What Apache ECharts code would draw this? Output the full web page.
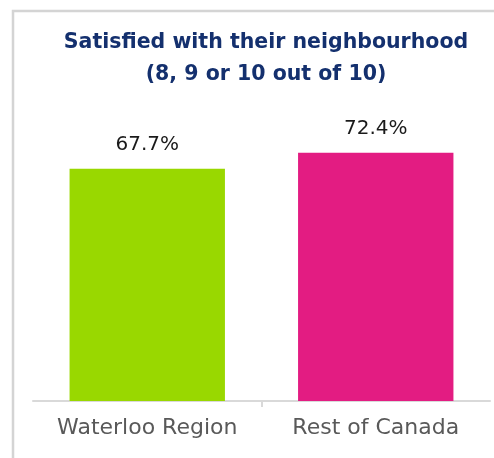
<!DOCTYPE html>
<html>
<head>
<meta charset="utf-8">
<script src="https://cdn.jsdelivr.net/npm/echarts@6/dist/echarts.min.js"></script>
<style>
  html, body { margin: 0; padding: 0; background: #fff; }
  #main { width: 494px; height: 458px; }
</style>
</head>
<body>
<div id="main"></div>
<script>
// data
var categories = ['Waterloo Region', 'Rest of Canada'];
var values = [67.7, 72.4];
var barColors = ['#99d800', '#e31c82'];
var titleText = 'Satisfied with their neighbourhood\n(8, 9 or 10 out of 10)';

var myChart = echarts.init(document.getElementById('main'));
var option = {
  animation: false,
  title: {
    text: titleText,
    left: 261,
    top: 22,
    textAlign: 'center',
    textStyle: {
      fontFamily: 'DejaVu Sans',
      fontWeight: 'bold',
      fontSize: 20.5,
      lineHeight: 32,
      color: '#14306e'
    }
  },
  // outer frame (left + top edges only)
  graphic: [{
    type: 'polyline',
    shape: { points: [[520, 11], [13, 11], [13, 480]] },
    style: { stroke: '#d4d4d4', lineWidth: 2.5, fill: null }
  }],
  grid: { left: 33, right: 4, top: 58, bottom: 57 },
  xAxis: [{
    type: 'category',
    data: categories,
    axisLine: { lineStyle: { color: '#d9d9d9', width: 2 } },
    axisTick: { show: false },
    axisLabel: {
      interval: 0,
      color: '#595959',
      fontSize: 22,
      fontFamily: 'DejaVu Sans',
      margin: 16
    }
  }, {
    // helper axis: only the divider tick between the two categories
    type: 'value',
    position: 'bottom',
    min: 0,
    max: categories.length,
    axisLine: { show: false },
    axisLabel: { show: false },
    splitLine: { show: false },
    axisTick: {
      show: true,
      length: 6,
      customValues: [1],
      lineStyle: { color: '#d9d9d9', width: 2 }
    }
  }],
  yAxis: {
    type: 'value',
    min: 0,
    max: 100,
    show: false
  },
  series: [{
    type: 'bar',
    barWidth: '68%',
    data: values.map(function (v, i) {
      return { value: v, itemStyle: { color: barColors[i] } };
    }),
    label: {
      show: true,
      position: 'top',
      distance: 14,
      formatter: function (p) { return p.value.toFixed(1) + '%'; },
      fontFamily: 'DejaVu Sans',
      fontSize: 20,
      color: '#1a1a1a'
    }
  }]
};
myChart.setOption(option);
window.addEventListener('resize', function () { myChart.resize(); });
</script>
</body>
</html>
